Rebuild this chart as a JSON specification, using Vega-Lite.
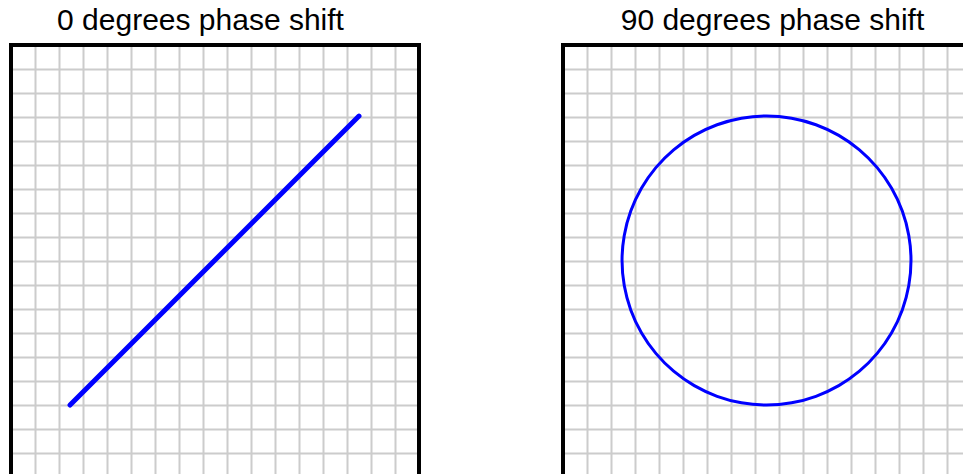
{
  "$schema": "https://vega.github.io/schema/vega-lite/v6.json",
  "background": "white",
  "padding": {"left": 9, "top": 6, "right": 0, "bottom": 0},
  "spacing": 140,
  "config": {
    "view": {"stroke": null},
    "title": {"font": "Liberation Sans", "fontSize": 30, "fontWeight": "normal", "color": "black", "baseline": "alphabetic", "offset": 7},
    "axis": {"grid": true, "gridColor": "#cccccc", "gridWidth": 2, "labels": false, "ticks": false, "tickSize": 0, "domain": false, "title": null}
  },
  "datasets": {
    "frame": [{}],
    "line0": [
      {"x": 2.46, "y": 3.0, "k": 0},
      {"x": 14.5, "y": 15.04, "k": 1}
    ],
    "circle90": [
      {"k": 0, "x": 14.5, "y": 9.02},
      {"k": 1, "x": 14.408, "y": 10.065},
      {"k": 2, "x": 14.137, "y": 11.079},
      {"k": 3, "x": 13.693, "y": 12.03},
      {"k": 4, "x": 13.091, "y": 12.89},
      {"k": 5, "x": 12.35, "y": 13.631},
      {"k": 6, "x": 11.49, "y": 14.233},
      {"k": 7, "x": 10.539, "y": 14.677},
      {"k": 8, "x": 9.525, "y": 14.948},
      {"k": 9, "x": 8.48, "y": 15.04},
      {"k": 10, "x": 7.435, "y": 14.948},
      {"k": 11, "x": 6.421, "y": 14.677},
      {"k": 12, "x": 5.47, "y": 14.233},
      {"k": 13, "x": 4.61, "y": 13.631},
      {"k": 14, "x": 3.869, "y": 12.89},
      {"k": 15, "x": 3.267, "y": 12.03},
      {"k": 16, "x": 2.823, "y": 11.079},
      {"k": 17, "x": 2.552, "y": 10.065},
      {"k": 18, "x": 2.46, "y": 9.02},
      {"k": 19, "x": 2.552, "y": 7.975},
      {"k": 20, "x": 2.823, "y": 6.961},
      {"k": 21, "x": 3.267, "y": 6.01},
      {"k": 22, "x": 3.869, "y": 5.15},
      {"k": 23, "x": 4.61, "y": 4.409},
      {"k": 24, "x": 5.47, "y": 3.807},
      {"k": 25, "x": 6.421, "y": 3.363},
      {"k": 26, "x": 7.435, "y": 3.092},
      {"k": 27, "x": 8.48, "y": 3.0},
      {"k": 28, "x": 9.525, "y": 3.092},
      {"k": 29, "x": 10.539, "y": 3.363},
      {"k": 30, "x": 11.49, "y": 3.807},
      {"k": 31, "x": 12.35, "y": 4.409},
      {"k": 32, "x": 13.091, "y": 5.15},
      {"k": 33, "x": 13.693, "y": 6.01},
      {"k": 34, "x": 14.137, "y": 6.961},
      {"k": 35, "x": 14.408, "y": 7.975}
    ]
  },
  "hconcat": [
    {
      "title": {"text": "0 degrees phase shift", "dx": -14.5},
      "width": 408,
      "height": 432,
      "layer": [
        {
          "data": {"name": "line0"},
          "mark": {"type": "line", "color": "#0000ff", "strokeWidth": 5, "strokeCap": "round"},
          "encoding": {
            "x": {"field": "x", "type": "quantitative", "scale": {"domain": [0, 17], "nice": false, "zero": false}, "axis": {"values": [1,2,3,4,5,6,7,8,9,10,11,12,13,14,15,16]}},
            "y": {"field": "y", "type": "quantitative", "scale": {"domain": [0, 18], "nice": false, "zero": false}, "axis": {"values": [1,2,3,4,5,6,7,8,9,10,11,12,13,14,15,16,17]}},
            "order": {"field": "k", "type": "quantitative"}
          }
        },
        {
          "data": {"name": "frame"},
          "mark": {"type": "rect", "fill": null, "stroke": "black", "strokeWidth": 4},
          "encoding": {
            "x": {"datum": 0, "type": "quantitative", "scale": {"domain": [0, 17], "nice": false, "zero": false}, "axis": {"values": [1,2,3,4,5,6,7,8,9,10,11,12,13,14,15,16]}},
            "x2": {"datum": 17},
            "y": {"datum": 0, "type": "quantitative", "scale": {"domain": [0, 18], "nice": false, "zero": false}, "axis": {"values": [1,2,3,4,5,6,7,8,9,10,11,12,13,14,15,16,17]}},
            "y2": {"datum": 18}
          }
        }
      ]
    },
    {
      "title": {"text": "90 degrees phase shift", "dx": 5.5},
      "width": 408,
      "height": 432,
      "layer": [
        {
          "data": {"name": "circle90"},
          "mark": {"type": "line", "color": "#0000ff", "strokeWidth": 3, "interpolate": "cardinal-closed"},
          "encoding": {
            "x": {"field": "x", "type": "quantitative", "scale": {"domain": [0, 17], "nice": false, "zero": false}, "axis": {"values": [1,2,3,4,5,6,7,8,9,10,11,12,13,14,15,16]}},
            "y": {"field": "y", "type": "quantitative", "scale": {"domain": [0, 18], "nice": false, "zero": false}, "axis": {"values": [1,2,3,4,5,6,7,8,9,10,11,12,13,14,15,16,17]}},
            "order": {"field": "k", "type": "quantitative"}
          }
        },
        {
          "data": {"name": "frame"},
          "mark": {"type": "rect", "fill": null, "stroke": "black", "strokeWidth": 4},
          "encoding": {
            "x": {"datum": 0, "type": "quantitative", "scale": {"domain": [0, 17], "nice": false, "zero": false}, "axis": {"values": [1,2,3,4,5,6,7,8,9,10,11,12,13,14,15,16]}},
            "x2": {"datum": 17},
            "y": {"datum": 0, "type": "quantitative", "scale": {"domain": [0, 18], "nice": false, "zero": false}, "axis": {"values": [1,2,3,4,5,6,7,8,9,10,11,12,13,14,15,16,17]}},
            "y2": {"datum": 18}
          }
        }
      ]
    }
  ]
}
